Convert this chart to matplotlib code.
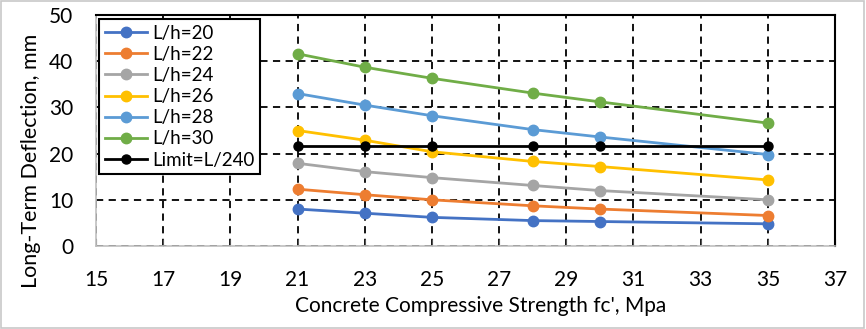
import matplotlib
matplotlib.use("Agg")
import matplotlib.pyplot as plt
from matplotlib.patches import Rectangle

plt.rcParams['font.family'] = ['Lato', 'DejaVu Sans']

fc = [21, 23, 25, 28, 30, 35]
lh20 = [8.0, 7.1, 6.2, 5.5, 5.3, 4.8]
lh22 = [12.3, 11.1, 10.0, 8.7, 8.0, 6.6]
lh24 = [17.9, 16.1, 14.8, 13.1, 12.0, 10.0]
lh26 = [25.0, 22.9, 20.4, 18.3, 17.2, 14.3]
lh28 = [33.0, 30.5, 28.2, 25.2, 23.6, 19.8]
lh30 = [41.6, 38.7, 36.3, 33.1, 31.2, 26.6]
limit = [21.7, 21.7, 21.7, 21.7, 21.7, 21.7]

labels = ['L/h=20', 'L/h=22', 'L/h=24', 'L/h=26', 'L/h=28', 'L/h=30', 'Limit=L/240']
colors = ['#4472C4', '#ED7D31', '#A5A5A5', '#FFC000', '#5B9BD5', '#70AD47', '#000000']
series = [lh20, lh22, lh24, lh26, lh28, lh30, limit]

xticks = list(range(15, 38, 2))
yticks = [0, 10, 20, 30, 40, 50]

fig = plt.figure(figsize=(8.66, 3.29), dpi=100)
ax = fig.add_axes([96/866, 1-246/329, (835-96)/866, (246-15)/329])

for s, c, l in zip(series, colors, labels):
    ms = 7.5 if c != '#000000' else 6.5
    ax.plot(fc, s, color=c, lw=2.0, marker='o', ms=ms, label=l, zorder=3)

ax.set_xlim(15, 37)
ax.set_ylim(0, 50)
ax.set_xticks(xticks)
ax.set_yticks(yticks)
ax.grid(True, color='black', linestyle=(0, (4, 3)), lw=1.3, zorder=1)
for sp in ['top', 'right']:
    ax.spines[sp].set_color('black')
    ax.spines[sp].set_linewidth(1.5)
for sp in ['left', 'bottom']:
    ax.spines[sp].set_color('#BFBFBF')
    ax.spines[sp].set_linewidth(1.2)
ax.tick_params(axis='x', direction='in', length=5, color='#555555', labelsize=15, pad=17)
ax.tick_params(axis='y', length=0, labelsize=15, pad=16.5)
ax.set_xlabel("Concrete Compressive Strength fc', Mpa", fontsize=15)
ax.set_ylabel("Long-Term Deflection, mm", fontsize=15.5)
ax.xaxis.set_label_coords(0.52, -0.215)
ax.yaxis.set_label_coords(-0.075, 0.37)

leg = ax.legend(loc='upper left', bbox_to_anchor=(0.002, 0.99), fontsize=13.5,
                frameon=True, fancybox=False, edgecolor='black', framealpha=1,
                handlelength=2.25, handletextpad=0.27, labelspacing=0.22,
                borderpad=0.3, borderaxespad=0.1)
leg.get_frame().set_linewidth(1.5)

fig.patches.append(Rectangle((0.001, 0.002), 0.997, 0.995, transform=fig.transFigure,
                             fill=False, edgecolor='#C8C8C8', lw=1.2))

fig.savefig('out.png', dpi=100)
